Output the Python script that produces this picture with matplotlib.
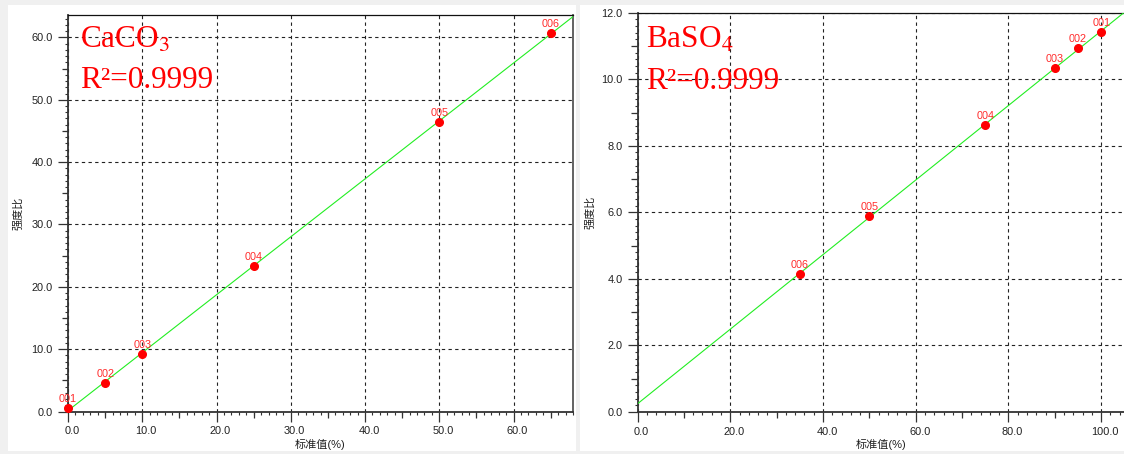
import numpy as np
import matplotlib
matplotlib.use("Agg")
import matplotlib.pyplot as plt
import matplotlib.transforms as mtransforms
from matplotlib.patches import Rectangle
from matplotlib.ticker import MultipleLocator, FormatStrFormatter, NullFormatter

plt.rcParams['font.family'] = ['Liberation Sans', 'Noto Sans CJK SC', 'DejaVu Sans']
plt.rcParams['mathtext.fontset'] = 'stix'

# CaCO3 calibration points
caco3_x = [0, 5, 10, 25, 50, 65]
caco3_y = [0.5, 4.6, 9.3, 23.3, 46.5, 60.7]
caco3_ids = ['001', '002', '003', '004', '005', '006']

# BaSO4 calibration points
baso4_x = [100, 95, 90, 75, 50, 35]
baso4_y = [11.43, 10.93, 10.33, 8.63, 5.89, 4.14]
baso4_ids = ['001', '002', '003', '004', '005', '006']

xlabel = '标准值(%)'
ylabel = '强度比'

W, H = 1124, 454
fig = plt.figure(figsize=(W / 100, H / 100), dpi=100)
fig.patch.set_facecolor('#f0f0f0')


def px_rect(x0, y0, x1, y1):
    # pixel box (top-left origin) -> figure fraction [l, b, w, h]
    return [x0 / W, (H - y1) / H, (x1 - x0) / W, (y1 - y0) / H]


for box in [(8, 5, 576, 451), (580, 5, W, 451)]:
    l, b, w, h = px_rect(*box)
    fig.add_artist(Rectangle((l, b), w, h, transform=fig.transFigure,
                             facecolor='white', edgecolor='none', zorder=-5))


def panel(rect, xs, ys, ids, xlim, ylim, xmaj, ymaj, name, ylab_x, lab_pos, right_spine=True):
    ax = fig.add_axes(px_rect(*rect))
    ax.set_xlim(*xlim)
    ax.set_ylim(*ylim)
    ax.set_facecolor('white')

    for axis, step in [(ax.xaxis, xmaj), (ax.yaxis, ymaj)]:
        axis.set_major_locator(MultipleLocator(step))
        axis.set_minor_locator(MultipleLocator(step / 10))
        axis.set_major_formatter(FormatStrFormatter('%.1f'))
    ax.tick_params(which='major', direction='out', length=7.5, width=0.9,
                   color='#333333', labelsize=7.9, labelcolor='#222222', pad=3.3)
    ax.tick_params(which='minor', direction='out', length=2.2, width=0.8, color='#333333')
    ax.tick_params(top=False, right=False)

    # medium ticks halfway between the labelled ones
    sx = ax.secondary_xaxis('bottom')
    sx.xaxis.set_major_locator(MultipleLocator(xmaj, offset=xmaj / 2))
    sx.xaxis.set_major_formatter(NullFormatter())
    sx.tick_params(length=4.5, width=0.9, color='#333333')
    sx.spines['bottom'].set_visible(False)
    sy = ax.secondary_yaxis('left')
    sy.yaxis.set_major_locator(MultipleLocator(ymaj, offset=ymaj / 2))
    sy.yaxis.set_major_formatter(NullFormatter())
    sy.tick_params(length=4.5, width=0.9, color='#333333')
    sy.spines['left'].set_visible(False)

    ax.grid(True, which='major', color='#222222', linestyle=(0, (3, 3)), linewidth=0.8)
    ax.set_axisbelow(True)

    for s in ['left', 'bottom']:
        ax.spines[s].set_color('#333333')
        ax.spines[s].set_linewidth(1.3)
    ax.spines['top'].set_color('#111111')
    ax.spines['top'].set_linewidth(0.9)
    ax.spines['right'].set_color('#555555')
    ax.spines['right'].set_linewidth(1.3)
    ax.spines['right'].set_visible(right_spine)

    # shift x tick labels a little to the right like the original software
    offset = mtransforms.ScaledTranslation(4 / 100, 0, fig.dpi_scale_trans)
    for lab in ax.get_xticklabels():
        lab.set_transform(lab.get_transform() + offset)

    slope, icpt = np.polyfit(xs, ys, 1)
    fx = np.array(xlim)
    ax.plot(fx, slope * fx + icpt, color='#22ee22', linewidth=0.8, zorder=3)
    ax.plot(xs, ys, 'o', color='#ff0000', markersize=5.5, zorder=4, clip_on=False)
    for x, y, t in zip(xs, ys, ids):
        ax.annotate(t, (x, y), xytext=(0, 4.3), textcoords='offset points',
                    ha='center', va='baseline', fontsize=7.8, color='#ff2a2a',
                    zorder=5, annotation_clip=False)

    ax.set_xlabel(xlabel, fontsize=8, color='#222222')
    ax.set_ylabel(ylabel, fontsize=8, color='#222222')
    ax.xaxis.label.set_va('center')
    ax.yaxis.label.set_va('center')
    x0, y0, x1, y1 = rect
    ax.xaxis.set_label_coords(0.5, (y1 - 444) / (y1 - y0))
    ax.yaxis.set_label_coords((ylab_x - x0) / (x1 - x0), 0.5)

    tx, b1, b2 = lab_pos
    serif = ['Liberation Serif', 'DejaVu Serif']
    ax.text((tx - x0) / (x1 - x0), (y1 - b1) / (y1 - y0), name, transform=ax.transAxes,
            fontsize=22.5, color='red', family=serif, va='baseline', zorder=6)
    ax.text((tx - x0) / (x1 - x0), (y1 - b2) / (y1 - y0), 'R²=0.9999', transform=ax.transAxes,
            fontsize=22.5, color='red', family=serif, va='baseline', zorder=6)
    return ax


panel((68, 15, 573, 411.5), caco3_x, caco3_y, caco3_ids, (0, 68), (0, 63.6), 10, 10,
      'CaCO$_3$', 18, (80, 48, 88))
panel((637.5, 12.8, W, 411.8), baso4_x, baso4_y, baso4_ids, (0, (W - 637.5) / 4.637), (0, 12), 20, 2,
      'BaSO$_4$', 590, (646, 48, 89), right_spine=False)

fig.savefig('out.png', dpi=100, facecolor=fig.get_facecolor())
